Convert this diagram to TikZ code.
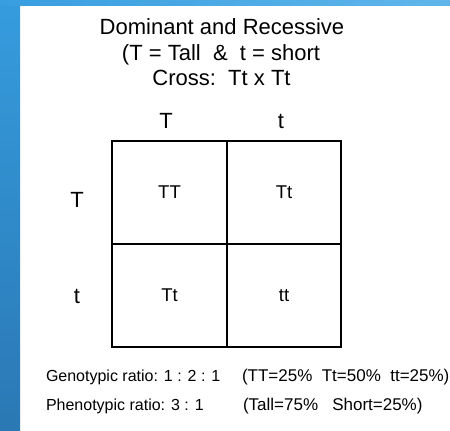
\documentclass[tikz,border=0pt]{standalone}
\usepackage{fontspec}
\setmainfont{Liberation Sans}
\definecolor{stripTop}{RGB}{54,156,222}
\definecolor{stripBot}{RGB}{42,120,180}
\definecolor{barLeft}{RGB}{56,158,224}
\definecolor{barRight}{RGB}{96,182,234}
\begin{document}
\begin{tikzpicture}[x=1pt,y=-1pt,
  every node/.style={inner sep=0pt,outer sep=0pt},
  titletext/.style={font=\fontsize{22}{25}\selectfont,anchor=base},
  headtext/.style={font=\fontsize{22}{25}\selectfont,anchor=base},
  celltext/.style={draw=black,line width=2pt,minimum width=114.5pt,minimum height=103pt,font=\fontsize{18.5}{22}\selectfont},
  ratiotext/.style={font=\fontsize{16}{20}\selectfont,anchor=base west},
  pcttext/.style={font=\fontsize{17}{20}\selectfont,anchor=base west}]
\useasboundingbox (0,0) rectangle (450,431);
\fill[white] (0,0) rectangle (450,431);
\shade[top color=stripTop,bottom color=stripBot] (0,0) rectangle (20,431);
\shade[left color=barLeft,right color=barRight] (0,0) rectangle (450,5);
% title
\node[titletext] (t1) at (222,34.3) {Dominant and Recessive};
\node[titletext] (t2) at (221,60) {(T = Tall\ \ \&\ \ t = short};
\node[titletext] (t3) at (221.5,85) {Cross:\ \ Tt x Tt};
% column / row headers
\node[headtext] (cT) at (166,128.3) {T};
\node[headtext] (ct) at (281,128.3) {t};
\node[headtext] (rT) at (77,207.7) {T};
\node[headtext] (rt) at (77,303) {t};
% punnett cells
\node[celltext] (c11) at (169.5,192.5) {TT};
\node[celltext] (c12) at (284,192.5) {Tt};
\node[celltext] (c21) at (169.5,295.5) {Tt};
\node[celltext] (c22) at (284,295.5) {tt};
% ratios
\node[ratiotext] (g1) at (46,381) {Genotypic ratio: 1 : 2 : 1};
\node[pcttext] (g2) at (242,381) {(TT=25\%\ \ Tt=50\%\ \ tt=25\%)};
\node[ratiotext] (p1) at (46,410) {Phenotypic ratio: 3 : 1};
\node[pcttext] (p2) at (243,410) {(Tall=75\%\ \ \ Short=25\%)};
\end{tikzpicture}
\end{document}
